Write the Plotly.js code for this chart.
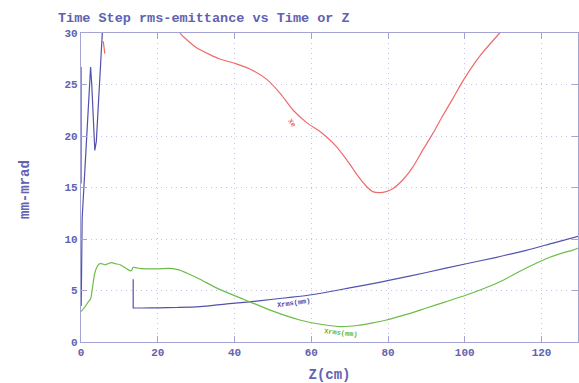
<!DOCTYPE html>
<html>
<head>
<meta charset="utf-8">
<script src="https://cdn.plot.ly/plotly-3.0.1.min.js"></script>
<style>html,body{margin:0;padding:0;background:#fff;}#chart{width:579px;height:383px;}</style>
</head>
<body>
<div id="chart"></div>
<script>
// Red curve (Xe); pieces
const redStartZ = [0.1, 0.1];
const redStartE = [15.4, 26.7];
const redFragZ = [5.8, 6.0, 6.2];
const redFragE = [29.2, 28.6, 28.0];
const redZ = [25.0, 25.8, 28, 30, 33.6, 36, 40.1, 44, 48.4, 52, 55.3, 58.8, 62, 64, 66.5, 69.2, 72, 74.4, 76, 77.9, 79.5, 81.3, 84, 86.5, 89, 91.7, 94, 97, 99.6, 104, 109.1, 110];
const redE = [30.8, 30.0, 29.2, 28.6, 27.9, 27.5, 27.05, 26.5, 25.5, 24.1, 22.5, 21.3, 20.5, 19.9, 19.0, 17.7, 16.2, 15.1, 14.6, 14.5, 14.6, 14.9, 15.8, 17.0, 18.6, 20.25, 21.8, 23.7, 25.4, 27.8, 30.0, 30.4];

// Blue curve (Xrms)
const blueStartZ = [0.05, 0.15, 0.3, 1.2, 2.0, 2.5, 2.8, 3.2, 3.6, 4.0, 4.6, 5.1, 5.5, 5.7];
const blueStartE = [3.5, 8.0, 12.0, 18.0, 23.5, 26.7, 25.0, 21.0, 18.6, 19.5, 23.5, 27.0, 29.6, 31.0];
const blueJumpZ = [13.6, 13.6, 14.5];
const blueJumpE = [6.1, 3.3, 3.3];
const blueZ = [14.5, 16, 20, 25, 31, 38, 44, 50, 55, 59.6, 65, 70, 75, 80.5, 90, 100.4, 108, 116, 123, 130];
const blueE = [3.3, 3.3, 3.32, 3.35, 3.43, 3.7, 3.9, 4.15, 4.35, 4.56, 4.9, 5.25, 5.6, 6.0, 6.75, 7.6, 8.2, 8.9, 9.6, 10.3];

// Green curve (Xrms)
const greenZ = [0, 0.8, 1.9, 2.5, 3.0, 3.6, 4.2, 4.8, 5.5, 6.25, 7, 8, 9, 10.2, 11.5, 12.9, 13.3, 13.6, 14.5, 15.3, 18, 20, 23.2, 25.5, 27.5, 31, 35, 40, 44, 50, 57, 62, 67.4, 72, 76, 79.6, 85, 90, 95, 100.4, 105, 110, 114, 117.8, 122, 126, 128, 130];
const greenE = [2.95, 3.3, 3.9, 4.2, 5.3, 6.7, 7.3, 7.6, 7.6, 7.5, 7.6, 7.7, 7.6, 7.5, 7.2, 6.9, 7.0, 7.25, 7.2, 7.15, 7.1, 7.1, 7.15, 7.0, 6.7, 6.1, 5.3, 4.5, 3.9, 3.0, 2.14, 1.75, 1.5, 1.6, 1.85, 2.14, 2.7, 3.3, 3.9, 4.56, 5.2, 6.0, 6.8, 7.5, 8.2, 8.7, 8.9, 9.2];

const xTicks = [0, 20, 40, 60, 80, 100, 120];
const yTicks = [0, 5, 10, 15, 20, 25, 30];
const titleText = 'Time Step rms-emittance vs Time or Z';
const xTitle = 'Z(cm)';
const yTitle = 'mm-mrad';
const curveLabels = [
  {text: 'Xe', z: 55.0, e: 21.3, color: '#f06a6a', angle: 55},
  {text: 'Xrms(mm)', z: 55.5, e: 3.75, color: '#4a4aa8', angle: -8},
  {text: 'Xrms(mm)', z: 67.8, e: 0.85, color: '#5cb83c', angle: 6}
];

const FONT = '"Liberation Mono", "Courier New", monospace';
const TXT = '#6262b2';
const AX = '#a4a4d6';
const GRID = '#c4c4ea';
const RED = '#f06a6a', BLUE = '#5252ac', GREEN = '#6cbd48';

function tr(x, y, color, shape) {
  return {x: x, y: y, mode: 'lines', line: {color: color, width: 1.2, shape: shape || 'linear', smoothing: 0.8}, hoverinfo: 'none'};
}
const traces = [
  tr(redStartZ, redStartE, RED),
  tr(redFragZ, redFragE, RED, 'spline'),
  tr(redZ, redE, RED, 'spline'),
  tr(blueStartZ, blueStartE, BLUE),
  tr(blueJumpZ, blueJumpE, BLUE),
  tr(blueZ, blueE, BLUE, 'spline'),
  tr(greenZ, greenE, GREEN, 'spline')
];

const axisCommon = {
  showline: true, linecolor: AX, linewidth: 1.2,
  mirror: 'ticks', ticks: 'inside', ticklen: 6, tickcolor: AX, tickwidth: 1,
  showgrid: true, gridcolor: GRID, griddash: '1px,4px', gridwidth: 1,
  zeroline: false,
  tickfont: {family: FONT, size: 11, color: TXT, weight: 'bold'}
};

const layout = {
  width: 579, height: 383,
  margin: {l: 81, r: 1, t: 33, b: 41, pad: 0},
  paper_bgcolor: '#ffffff', plot_bgcolor: '#ffffff',
  showlegend: false,
  title: {text: titleText, x: 58/579, xanchor: 'left', xref: 'container', y: 1 - 17/383, yanchor: 'middle', yref: 'container',
    font: {family: FONT, size: 13.5, color: TXT, weight: 'bold'}},
  xaxis: Object.assign({}, axisCommon, {range: [0, 129.5], tickvals: xTicks, ticktext: xTicks.map(String),
    title: {text: xTitle, standoff: 11, font: {family: FONT, size: 14, color: TXT, weight: 'bold'}}}),
  yaxis: Object.assign({}, axisCommon, {range: [0, 30], tickvals: yTicks, ticktext: yTicks.map(String)}),
  annotations: [
    {text: yTitle, xref: 'paper', yref: 'paper', x: (15 - 81) / 497, y: 1 - (190 - 33) / 309, showarrow: false, textangle: -90,
      font: {family: FONT, size: 14, color: TXT, weight: 'bold'}}
  ].concat(curveLabels.map(l => ({text: l.text, x: l.z, y: l.e, xref: 'x', yref: 'y', showarrow: false, textangle: l.angle,
      font: {family: FONT, size: 7, color: l.color, weight: 'bold'}})))
};

Plotly.newPlot('chart', traces, layout, {staticPlot: true, displayModeBar: false});
</script>
</body>
</html>
